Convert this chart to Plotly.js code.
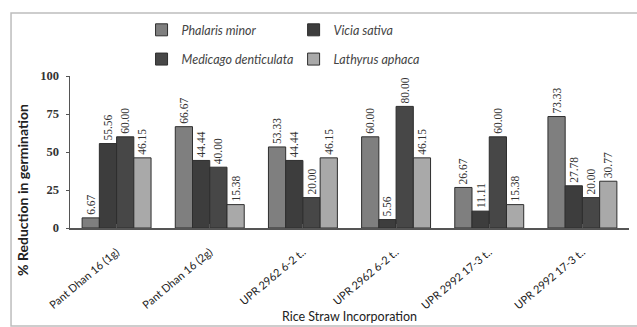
<!DOCTYPE html>
<html>
<head>
<meta charset="utf-8">
<script src="https://cdn.plot.ly/plotly-3.0.1.min.js"></script>
<style>html,body{margin:0;padding:0;background:#fff;}#chart{width:637px;height:327px;}</style>
</head>
<body>
<div id="chart"></div>
<script>
const categories = ["Pant Dhan 16 (1g)", "Pant Dhan 16 (2g)", "UPR 2962 6-2 t..", "UPR 2962 6-2 t...", "UPR 2992 17-3 t..", "UPR 2992 17-3 t..."];
const tickLabels = ["Pant Dhan 16 (1g)", "Pant Dhan 16 (2g)", "UPR 2962 6-2 t..", "UPR 2962 6-2 t..", "UPR 2992 17-3 t..", "UPR 2992 17-3 t.."];
const phalarisMinor = [6.67, 66.67, 53.33, 60.00, 26.67, 73.33];
const viciaSativa = [55.56, 44.44, 44.44, 5.56, 11.11, 27.78];
const medicagoDenticulata = [60.00, 40.00, 20.00, 80.00, 60.00, 20.00];
const lathyrusAphaca = [46.15, 15.38, 46.15, 46.15, 15.38, 30.77];
const seriesNames = ["Phalaris minor", "Vicia sativa", "Medicago denticulata", "Lathyrus aphaca"];
const seriesColors = ["#7f7f7f", "#3d3d3d", "#474747", "#a9a9a9"];
const yTicks = [0, 25, 50, 75, 100];

const xIdx = categories.map((c, i) => i);
const allSeries = [phalarisMinor, viciaSativa, medicagoDenticulata, lathyrusAphaca];
const legendOf = ["legend", "legend2", "legend", "legend2"];

const traces = allSeries.map((vals, k) => ({
  type: "bar",
  x: xIdx,
  y: vals,
  name: seriesNames[k],
  legend: legendOf[k],
  legendgroup: "g" + k,
  marker: {color: seriesColors[k], line: {color: "#2e2e2e", width: 1}},
  text: vals.map(v => v.toFixed(2)),
  textposition: "outside",
  textangle: -90,
  constraintext: "none",
  cliponaxis: false,
  textfont: {family: "Liberation Serif, serif", size: 11.5, color: "#333"},
  hoverinfo: "y"
}));

const layout = {
  width: 637, height: 327,
  margin: {l: 70, r: 8, t: 76, b: 99},
  paper_bgcolor: "#fff", plot_bgcolor: "#fff",
  barmode: "group",
  bargap: 0.26,
  bargroupgap: 0,
  showlegend: true,
  font: {family: "Lato, sans-serif", color: "#333"},
  xaxis: {
    tickmode: "array", tickvals: xIdx, ticktext: tickLabels,
    tickangle: -40,
    tickfont: {family: "Lato, sans-serif", size: 11, color: "#222"},
    ticklabelstandoff: 12,
    range: [-0.5, 5.5],
    showline: true, linecolor: "#555", linewidth: 1.5,
    ticks: "inside", tickson: "boundaries", ticklen: 4, tickcolor: "#555",
    showgrid: false, zeroline: false,
    title: {text: "Rice Straw Incorporation", font: {family: "Lato, sans-serif", size: 12.5, color: "#222"}, standoff: 2},
    automargin: false
  },
  yaxis: {
    range: [0, 100],
    tickmode: "array", tickvals: yTicks, ticktext: yTicks.map(String),
    tickfont: {family: "Liberation Serif, serif", size: 12.5, color: "#333", weight: "bold"},
    ticklabelstandoff: 4,
    showline: true, linecolor: "#555", linewidth: 1.5,
    ticks: "outside", ticklen: 3, tickcolor: "#555",
    showgrid: false, zeroline: false,
    automargin: false
  },
  annotations: [{
    text: "% Reduction in germination", textangle: -90,
    xref: "paper", yref: "paper", x: -0.086, y: 0.25,
    xanchor: "center", yanchor: "middle", showarrow: false,
    font: {family: "Lato, sans-serif", size: 14, color: "#222", weight: "bold"}
  }],
  legend: {
    x: 0.128, xanchor: "left", y: 1.40, yanchor: "top",
    orientation: "v", tracegroupgap: 10,
    font: {family: "Lato, sans-serif", size: 12.5, color: "#444", style: "italic"},
    bgcolor: "rgba(0,0,0,0)", itemwidth: 30
  },
  legend2: {
    x: 0.400, xanchor: "left", y: 1.40, yanchor: "top",
    orientation: "v", tracegroupgap: 10,
    font: {family: "Lato, sans-serif", size: 12.5, color: "#444", style: "italic"},
    bgcolor: "rgba(0,0,0,0)", itemwidth: 30
  },
  shapes: [{
    type: "rect", xref: "paper", yref: "paper",
    x0: -0.1055, x1: 1.02, y0: -0.645, y1: 1.414,
    line: {color: "#bdbdbd", width: 1.5}, layer: "below"
  }]
};

Plotly.newPlot("chart", traces, layout, {displayModeBar: false, staticPlot: true});
</script>
</body>
</html>
